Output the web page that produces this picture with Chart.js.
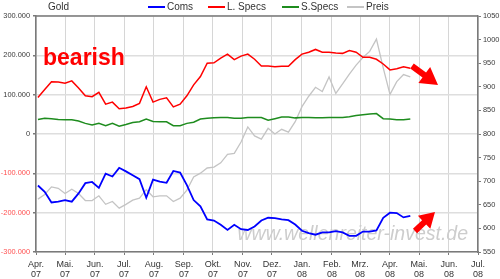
<!DOCTYPE html>
<html><head><meta charset="utf-8">
<script src="https://cdn.jsdelivr.net/npm/chart.js@4.4.0/dist/chart.umd.min.js"></script>
<style>html,body{margin:0;padding:0;background:#fff}canvas{display:block}</style>
</head><body>
<canvas id="c" width="500" height="279"></canvas>
<script>
// Weekly COT report dates (Tuesdays)
const reportDates = [
 '2007-04-03','2007-04-10','2007-04-17','2007-04-24','2007-05-01','2007-05-08','2007-05-15','2007-05-22','2007-05-29',
 '2007-06-05','2007-06-12','2007-06-19','2007-06-26','2007-07-03','2007-07-10','2007-07-17','2007-07-24','2007-07-31',
 '2007-08-07','2007-08-14','2007-08-21','2007-08-28','2007-09-04','2007-09-11','2007-09-18','2007-09-25',
 '2007-10-02','2007-10-09','2007-10-16','2007-10-23','2007-10-30','2007-11-06','2007-11-13','2007-11-20','2007-11-27',
 '2007-12-04','2007-12-11','2007-12-18','2007-12-25','2008-01-01','2008-01-08','2008-01-15','2008-01-22','2008-01-29',
 '2008-02-05','2008-02-12','2008-02-19','2008-02-26','2008-03-04','2008-03-11','2008-03-18','2008-03-25',
 '2008-04-01','2008-04-08','2008-04-15','2008-04-22'];
const monthStarts = ['2007-04-01','2007-05-01','2007-06-01','2007-07-01','2007-08-01','2007-09-01','2007-10-01','2007-11-01',
 '2007-12-01','2008-01-01','2008-02-01','2008-03-01','2008-04-01','2008-05-01','2008-06-01','2008-07-01'];
const monthLabels = [['Apr.','07'],['Mai.','07'],['Jun.','07'],['Jul.','07'],['Aug.','07'],['Sep.','07'],['Okt.','07'],['Nov.','07'],
 ['Dez.','07'],['Jan.','08'],['Feb.','08'],['Mrz.','08'],['Apr.','08'],['Mai.','08'],['Jun.','08'],['Jul.','08']];
const coms = [-131000,-147000,-174000,-172000,-168000,-172000,-151000,-125000,-122000,-137000,-101000,-108000,-86000,-95000,
 -105000,-115000,-162000,-116000,-121000,-124000,-94000,-98000,-130000,-168000,-184000,-217000,-220000,-231000,-244000,-231000,
 -242000,-244000,-235000,-220000,-213000,-214000,-217000,-219000,-230000,-246000,-252000,-256000,-250000,-250000,-247000,-250000,
 -259000,-259000,-248000,-248000,-245000,-213000,-200000,-201000,-212000,-208000];
const lSpecs = [93000,113000,133000,132000,129000,135000,117000,97000,95000,106000,76000,81000,64000,66000,70000,78000,120000,
 81000,88000,92000,69000,76000,97000,125000,146000,180000,181000,193000,203000,189000,198000,203000,190000,173000,173000,171000,
 172000,172000,189000,203000,208000,215000,208000,208000,206000,205000,212000,208000,195000,195000,190000,178000,163000,166000,
 171000,167000];
const sSpecs = [37000,40000,39000,37000,36000,36000,33000,27000,23000,27000,21000,27000,20000,24000,29000,31000,38000,32000,
 31000,31000,21000,21000,27000,30000,38000,40000,41000,42000,42000,40000,40000,42000,42000,42000,35000,39000,43000,43000,41000,
 42000,42000,41000,41000,42000,42000,42000,44000,47000,49000,51000,52000,39000,38000,36000,36000,38000];
const preis = [662,672,688,685,674,683,674,659,659,669,651,657,643,651,660,664,682,667,669,669,657,664,681,709,717,728,730,
 739,757,759,783,815,796,789,812,800,810,804,826,858,880,899,890,921,886,906,927,946,962,975,1001,940,884,911,926,921];
const seriesNames = ['Coms','L. Specs','S.Specs','Preis'];
const seriesColors = ['#0000ff','#ff0000','#1e8c1e','#c4c4c4'];
const chartTitle = 'Gold';
const noteText = 'bearish';
const watermark = 'www.wellenreiter-invest.de';

const t0 = Date.parse('2007-04-01');
const dayOf = d => Math.round((Date.parse(d) - t0) / 86400000);
const xs = reportDates.map(dayOf);
const monthDays = monthStarts.map(dayOf);
const pts = arr => arr.map((v, i) => ({x: xs[i], y: v}));
const fmt = v => { const s = Math.abs(v).toString().replace(/\B(?=(\d{3})+(?!\d))/g, '.'); return (v < 0 ? '-' : '') + s; };

function arrow(ctx, sx, sy, tx, ty, hl, hw, sw) {
  const dx = tx - sx, dy = ty - sy, L = Math.hypot(dx, dy), ux = dx / L, uy = dy / L, nx = -uy, ny = ux;
  const bx = tx - ux * hl, by = ty - uy * hl;
  ctx.beginPath();
  ctx.moveTo(sx + nx * sw, sy + ny * sw);
  ctx.lineTo(bx + nx * sw, by + ny * sw);
  ctx.lineTo(bx + nx * hw, by + ny * hw);
  ctx.lineTo(tx, ty);
  ctx.lineTo(bx - nx * hw, by - ny * hw);
  ctx.lineTo(bx - nx * sw, by - ny * sw);
  ctx.lineTo(sx - nx * sw, sy - ny * sw);
  ctx.closePath();
  ctx.fill();
}

const decor = {
  id: 'decor',
  beforeDatasetsDraw(chart) {
    const ctx = chart.ctx, a = chart.chartArea;
    ctx.save();
    ctx.font = 'italic 19.5px "Liberation Sans", Arial, sans-serif';
    ctx.fillStyle = '#cdcdcd';
    ctx.textAlign = 'right';
    ctx.textBaseline = 'alphabetic';
    ctx.fillText(watermark, a.right - 10, a.bottom - 12);
    ctx.restore();
  },
  afterDatasetsDraw(chart) {
    const ctx = chart.ctx, a = chart.chartArea;
    ctx.save();
    ctx.strokeStyle = '#7a7a7a'; ctx.lineWidth = 1.5;
    ctx.beginPath(); ctx.moveTo(a.left, a.top); ctx.lineTo(a.right, a.top); ctx.stroke();
    ctx.font = 'bold 23px "Liberation Sans", Arial, sans-serif';
    ctx.fillStyle = '#ff0000';
    ctx.textAlign = 'left'; ctx.textBaseline = 'alphabetic';
    ctx.fillText(noteText, a.left + 7, 65);
    ctx.fillStyle = '#ff0000';
    arrow(ctx, 412, 66, 438, 85, 17, 10, 3);
    arrow(ctx, 415, 231, 435, 212, 15, 9, 3);
    ctx.font = '10px "Liberation Sans", Arial, sans-serif';
    ctx.textBaseline = 'middle';
    ctx.fillStyle = '#333333';
    ctx.fillText(chartTitle, 48, 7);
    const lx = [148, 208, 282, 347];
    seriesNames.forEach((n, i) => {
      ctx.strokeStyle = seriesColors[i]; ctx.lineWidth = 2;
      ctx.beginPath(); ctx.moveTo(lx[i], 7); ctx.lineTo(lx[i] + 17, 7); ctx.stroke();
      ctx.fillStyle = '#333333';
      ctx.fillText(n, lx[i] + 19, 7);
    });
    ctx.restore();
  }
};

const ds = (label, data, color, axis, w) => ({
  label, data: pts(data), borderColor: color, backgroundColor: color, yAxisID: axis,
  borderWidth: w, pointRadius: 0, tension: 0, fill: false
});

new Chart(document.getElementById('c'), {
  type: 'line',
  data: {
    datasets: [
      ds(seriesNames[0], coms, seriesColors[0], 'y', 1.8),
      ds(seriesNames[1], lSpecs, seriesColors[1], 'y', 1.5),
      ds(seriesNames[2], sSpecs, seriesColors[2], 'y', 1.5),
      ds(seriesNames[3], preis, seriesColors[3], 'y2', 1.3)
    ]
  },
  options: {
    responsive: false, animation: false, devicePixelRatio: 1,
    layout: { padding: { top: 16, left: 0, right: 0, bottom: 0 } },
    plugins: { legend: { display: false }, title: { display: false }, tooltip: { enabled: false } },
    scales: {
      x: {
        type: 'linear', min: monthDays[0], max: monthDays[monthDays.length - 1],
        afterBuildTicks: s => { s.ticks = monthDays.map(v => ({ value: v })); },
        afterFit: s => { s.height = 27; },
        ticks: {
          autoSkip: false, maxRotation: 0, minRotation: 0, padding: 5,
          color: '#333333', font: { size: 9, family: '"Liberation Sans", Arial, sans-serif', lineHeight: 1.05 },
          callback: (v, i) => monthLabels[i]
        },
        grid: { color: '#d6d6d6', lineWidth: 1, tickLength: 3, tickColor: '#7a7a7a' },
        border: { color: '#7a7a7a', width: 1.5 }
      },
      y: {
        position: 'left', min: -300000, max: 300000,
        afterFit: s => { s.width = 36; },
        ticks: {
          stepSize: 100000, padding: 3,
          color: c => (c.tick && c.tick.value < 0) ? '#ff5050' : '#3a3a3a',
          font: { size: 7.4, family: '"Liberation Sans", Arial, sans-serif' },
          callback: v => fmt(v)
        },
        grid: { color: '#dedede', lineWidth: 1.6, tickLength: 3, tickColor: '#7a7a7a' },
        border: { color: '#7a7a7a', width: 1.5 }
      },
      y2: {
        position: 'right', min: 550, max: 1050,
        afterFit: s => { s.width = 22; },
        ticks: {
          stepSize: 50, padding: 2, color: '#3a3a3a',
          font: { size: 7.4, family: '"Liberation Sans", Arial, sans-serif' },
          callback: v => String(v)
        },
        grid: { drawOnChartArea: false, tickLength: 3, tickColor: '#7a7a7a' },
        border: { color: '#7a7a7a', width: 1.5 }
      }
    }
  },
  plugins: [decor]
});
</script>
</body></html>
